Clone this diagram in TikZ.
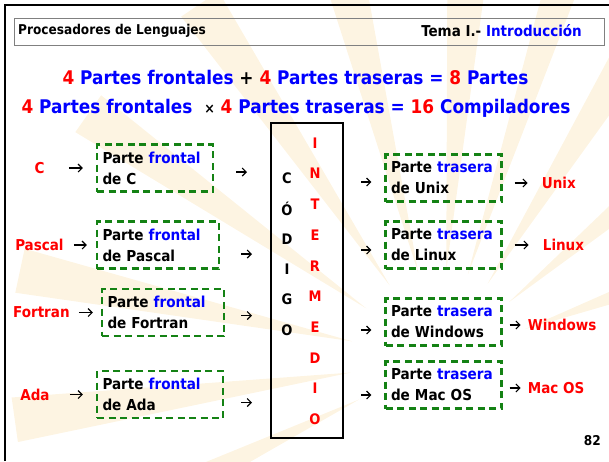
\documentclass[tikz,border=0pt]{standalone}
\usepackage{fontspec}
\setmainfont{DejaVu Sans Condensed}
\usetikzlibrary{positioning, arrows.meta}
\definecolor{rojo}{RGB}{255,0,0}
\definecolor{azul}{RGB}{0,0,255}
\definecolor{verde}{RGB}{20,130,20}
\definecolor{sol}{RGB}{253,244,226}

\begin{document}
\begin{tikzpicture}[x=1pt, y=-1pt,
    every node/.style={font=\bfseries},
    titulo/.style={inner sep=0pt, font=\bfseries\fontsize{13.5}{16}\selectfont},
    cuenta/.style={inner sep=0pt, text=azul, font=\bfseries\fontsize{18.8}{22}\selectfont},
    lang/.style={inner sep=0pt, text=rojo, font=\bfseries\fontsize{15}{17}\selectfont},
    parte/.style={draw=verde, line width=2.4pt, dash pattern=on 7pt off 4.5pt,
        inner xsep=5.5pt, minimum height=47pt, align=left,
        font=\bfseries\fontsize{15.1}{21}\selectfont},
    letra/.style={inner sep=0pt, font=\bfseries\fontsize{14.5}{16}\selectfont},
    flecha/.style={-{Straight Barb[length=4pt,width=8pt]}, line width=1.1pt}]

    \useasboundingbox (0,0) rectangle (609,461);
    % sunburst behind everything
    \begin{scope}
        \clip (0,0) rectangle (609,461);
        \foreach \a/\w in {20/3,40/3,58/3,72/2.5,86/3,104/3,124/3,145/3,168/3,188/3,206/3}
            \fill[sol, shift={(440,360)}] (\a:90pt) -- (\a-\w:430pt)
                -- (\a+\w:430pt) -- cycle;
    \end{scope}

    \draw[line width=2pt] (4.5,461) -- (4.5,5) -- (609,5);

    \node[draw=gray, line width=0.8pt, anchor=north west,
          minimum width=590, minimum height=27] (hdr) at (14,18) {};
    \node[titulo, anchor=west]  (asig) at (18,31)  {Procesadores de Lenguajes};
    \node[titulo, anchor=east, font=\bfseries\fontsize{15}{17}\selectfont] (tema) at (582,31)
        {Tema I.- \textcolor{azul}{Introducción}};

    \node[cuenta] (suma) at (295.5,77)
        {\textcolor{rojo}{4} Partes frontales \textcolor{black}{+} \textcolor{rojo}{4} Partes traseras = \textcolor{rojo}{8} Partes};
    \node[cuenta] (prod) at (296,108)
        {\textcolor{rojo}{4} Partes frontales \ {\color{black}\fontsize{14}{16}\selectfont ×} \textcolor{rojo}{4} Partes traseras = \textcolor{rojo}{16} Compiladores};

    % partes frontales
    \node[parte, text width=105pt] (fC) at (155,168)   {Parte \textcolor{azul}{frontal}\\de C};
    \node[parte, text width=111pt] (fP) at (158,245)   {Parte \textcolor{azul}{frontal}\\de Pascal};
    \node[parte, text width=111pt] (fF) at (163,312.5) {Parte \textcolor{azul}{frontal}\\de Fortran};
    \node[parte, text width=115pt] (fA) at (160,394.5) {Parte \textcolor{azul}{frontal}\\de Ada};

    \node[lang, left=51pt of fC] (lC) {C};
    \node[lang, left=32pt of fP] (lP) {Pascal};
    \node[lang, left=31pt of fF] (lF) {Fortran};
    \node[lang, left=46pt of fA] (lA) {Ada};

    % codigo intermedio
    \node[draw, line width=2pt, minimum width=72, minimum height=315] (code) at (307,280.5) {};
    \foreach \l [count=\i] in {C,Ó,D,I,G,O}
        \node[letra] (c\i) at (287,147.6+30.4*\i) {\l};
    \foreach \l [count=\i] in {I,N,T,E,R,M,E,D,I,O}
        \node[letra, text=rojo] (m\i) at (315,112.3+30.7*\i) {\l};

    % partes traseras
    \node[parte, text width=105pt] (bU) at (443.5,178) {Parte \textcolor{azul}{trasera}\\de Unix};
    \node[parte, text width=105pt] (bL) at (443.5,245) {Parte \textcolor{azul}{trasera}\\de Linux};
    \node[parte, text width=105pt] (bW) at (443.5,322) {Parte \textcolor{azul}{trasera}\\de Windows};
    \node[parte, text width=105pt] (bM) at (443.5,385) {Parte \textcolor{azul}{trasera}\\de Mac OS};

    \node[lang, right=39pt of bU, yshift=-5pt] (oU) {Unix};
    \node[lang, right=40pt of bL]              (oL) {Linux};
    \node[lang, right=25pt of bW, yshift=-3pt] (oW) {Windows};
    \node[lang, right=25pt of bM, yshift=-3pt] (oM) {Mac OS};

    \node[titulo, anchor=east] (pag) at (601,441) {82};

    \draw[flecha, shorten <=24pt, shorten >=13pt] (lC.east) -- (fC.west);
    \draw[flecha, shorten <=10pt, shorten >=9pt]  (lP.east) -- (fP.west);
    \draw[flecha, shorten <=9pt,  shorten >=8pt]  (lF.east) -- (fF.west);
    \draw[flecha, shorten <=20pt, shorten >=13pt] (lA.east) -- (fA.west);

    \draw[flecha, shorten <=22pt, shorten >=23pt] ([yshift=-4pt]fC.east) -- ([yshift=-4pt]fC.east -| code.west);
    \draw[flecha, shorten <=21pt, shorten >=18pt] ([yshift=-9pt]fP.east) -- ([yshift=-9pt]fP.east -| code.west);
    \draw[flecha, shorten <=16pt, shorten >=18pt] ([yshift=-3pt]fF.east) -- ([yshift=-3pt]fF.east -| code.west);
    \draw[flecha, shorten <=17pt, shorten >=18pt] ([yshift=-8pt]fA.east) -- ([yshift=-8pt]fA.east -| code.west);

    \draw[flecha, shorten <=17pt, shorten >=13pt] ([yshift=-4pt]bU.west -| code.east) -- ([yshift=-4pt]bU.west);
    \draw[flecha, shorten <=17pt, shorten >=13pt] ([yshift=-5pt]bL.west -| code.east) -- ([yshift=-5pt]bL.west);
    \draw[flecha, shorten <=17pt, shorten >=13pt] ([yshift=-8pt]bW.west -| code.east) -- ([yshift=-8pt]bW.west);
    \draw[flecha, shorten <=17pt, shorten >=13pt] ([yshift=-10pt]bM.west -| code.east) -- ([yshift=-10pt]bM.west);

    \draw[flecha, shorten <=12pt, shorten >=14pt] (oU.west -| bU.east) -- (oU.west);
    \draw[flecha, shorten <=12pt, shorten >=14pt] (oL.west -| bL.east) -- (oL.west);
    \draw[flecha, shorten <=7pt,  shorten >=7pt]  (oW.west -| bW.east) -- (oW.west);
    \draw[flecha, shorten <=7pt,  shorten >=7pt]  (oM.west -| bM.east) -- (oM.west);
\end{tikzpicture}
\end{document}
